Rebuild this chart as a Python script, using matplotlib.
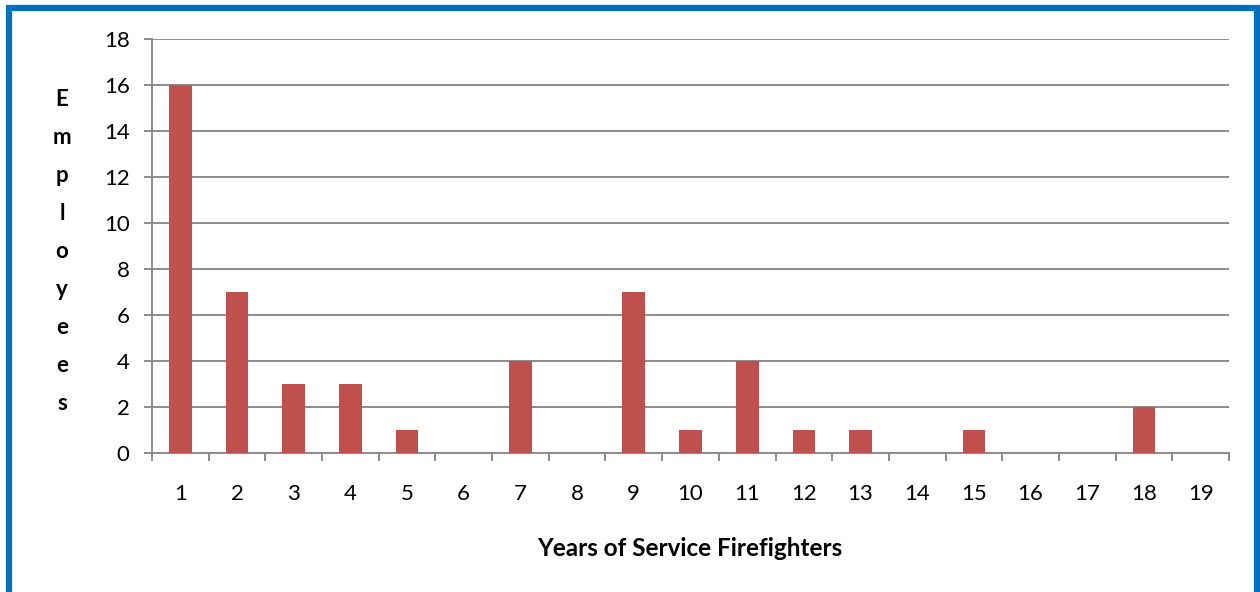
import matplotlib.pyplot as plt
from matplotlib.patches import Rectangle

# years of service and number of employees
years = list(range(1, 20))
employees = [16, 7, 3, 3, 1, 0, 4, 0, 7, 1, 4, 1, 1, 0, 1, 0, 0, 2, 0]

plt.rcParams['font.family'] = ['Lato', 'DejaVu Sans']

fig = plt.figure(figsize=(12.6, 5.92), dpi=100)
ax = fig.add_axes([0.1206, 0.2348, 0.8548, 0.6993])

ax.bar(years, employees, width=0.4, color='#C0504D', zorder=3)

ax.set_xlim(0.5, 19.5)
ax.set_ylim(0, 18)
ax.set_yticks(range(0, 19, 2))
ax.set_xticks(years)
ax.set_xticks([y + 0.5 for y in range(0, 20)], minor=True)

ax.grid(axis='y', color='#8c8c8c', linewidth=1.4, zorder=0)
for s in ['top', 'right']:
    ax.spines[s].set_visible(False)
for s in ['left', 'bottom']:
    ax.spines[s].set_color('#8c8c8c')
    ax.spines[s].set_linewidth(1.4)

ax.tick_params(axis='x', which='major', length=0, pad=22, labelsize=16)
ax.tick_params(axis='x', which='minor', length=6, width=1.4, color='#8c8c8c')
ax.tick_params(axis='y', length=6, width=1.4, color='#8c8c8c', pad=10, labelsize=16)

# y label written letter by letter
label = "Employees"
top_y, step = 1 - 100 / 592, 38.0 / 592
for i, ch in enumerate(label):
    fig.text(62 / 1260, top_y - i * step, ch, ha='center', va='center',
             fontsize=16, fontweight='bold')

fig.text(690 / 1260, 1 - 548 / 592, "Years of Service Firefighters",
         ha='center', va='center', fontsize=17.5, fontweight='bold')

# blue frame (bottom edge falls outside the image)
fig.patches.append(Rectangle((9 / 1260, -0.05), 1248 / 1260, 1.05 - 8 / 592,
                             transform=fig.transFigure, fill=False,
                             edgecolor='#0070C0', linewidth=4.5))

fig.savefig('out.png', dpi=100)
